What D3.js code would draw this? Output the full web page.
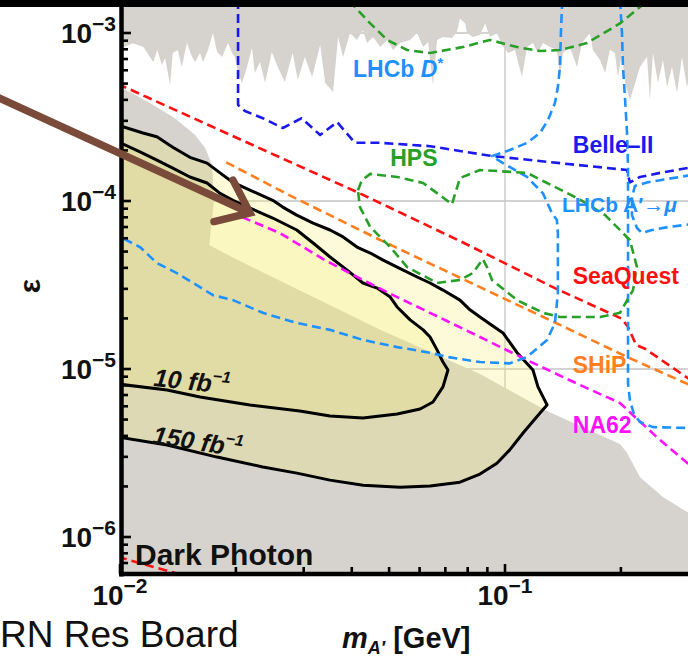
<!DOCTYPE html>
<html>
<head>
<meta charset="utf-8">
<script src="https://cdn.jsdelivr.net/npm/d3@7"></script>
<style>
  html, body { margin: 0; padding: 0; background: #fff; }
  svg { display: block; }
  text { font-family: "Liberation Sans", Arial, Helvetica, sans-serif; }
</style>
</head>
<body>
<svg id="chart" width="688" height="657"></svg>
<script>
// ---- Axis ticks (mass in GeV, kinetic mixing epsilon) ----
const xMajorTicks = [0.01, 0.1];
const xMajorExp = ["\u22122", "\u22121"];
const xMinorTicks = [0.02, 0.03, 0.04, 0.05, 0.06, 0.07, 0.08, 0.09, 0.2];
const yMajorTicks = [1e-3, 1e-4, 1e-5, 1e-6];
const yMajorExp = ["\u22123", "\u22124", "\u22125", "\u22126"];
const yMinorTicks = [7e-7, 8e-7, 9e-7,
  2e-6, 3e-6, 4e-6, 5e-6, 6e-6, 7e-6, 8e-6, 9e-6,
  2e-5, 3e-5, 4e-5, 5e-5, 6e-5, 7e-5, 8e-5, 9e-5,
  2e-4, 3e-4, 4e-4, 5e-4, 6e-4, 7e-4, 8e-4, 9e-4];
const xGrid = [0.1];
const yGrid = [1e-3, 1e-4, 1e-5, 1e-6];

// ---- Excluded regions [mass, epsilon] ----
const upperExcluded = [[0.0098,7.9e-4],[0.0108,8.7e-4],[0.0115,8.25e-4],[0.0122,6.72e-4],[0.0125,7.92e-4],[0.01285,6.45e-4],[0.0131,7.1e-4],[0.01349,4.9e-4],[0.01371,7.6e-4],[0.01413,7.92e-4],[0.01447,6.27e-4],[0.01492,8.72e-4],[0.01539,7.2e-4],[0.01567,6.72e-4],[0.01614,7.6e-4],[0.01643,6.72e-4],[0.01693,7.92e-4],[0.01744,1.0e-3],[0.01787,7.71e-4],[0.01841,7.2e-4],[0.01908,8.72e-4],[0.01954,7.6e-4],[0.01988,7.2e-4],[0.02026,5.78e-4],[0.02075,5.04e-4],[0.02138,6.27e-4],[0.02202,8.14e-4],[0.0224,5.78e-4],[0.0231,6.72e-4],[0.02382,5.04e-4],[0.02479,7.71e-4],[0.02569,6.27e-4],[0.0268,5.11e-4],[0.02809,7.6e-4],[0.02895,5.25e-4],[0.03021,7.2e-4],[0.03155,5.47e-4],[0.0331,8.49e-4],[0.03413,5.04e-4],[0.03576,4.46e-4],[0.03686,9.47e-4],[0.03797,7.2e-4],[0.03958,1.0e-3],[0.04126,9.09e-4],[0.04276,1.04e-3],[0.0438,8.72e-4],[0.04545,9.47e-4],[0.0474,8.25e-4],[0.04944,9.09e-4],[0.0512,7.92e-4],[0.0534,8.72e-4],[0.05666,9.09e-4],[0.05913,1.0e-3],[0.06128,8.25e-4],[0.06315,8.84e-4],[0.0650,4.9e-4],[0.0666,9.09e-4],[0.069,9.47e-4],[0.0728,9.34e-4],[0.075,1.01e-3],[0.0764,1.22e-3],[0.0788,1.14e-3],[0.0797,1.0e-3],[0.0825,9.47e-4],[0.0861,9.73e-4],[0.0888,1.14e-3],[0.0914,9.47e-4],[0.0953,1.0e-3],[0.0982,8.49e-4],[0.1019,7.6e-4],[0.1061,7.92e-4],[0.1107,5.47e-4],[0.1141,8.25e-4],[0.1182,8.72e-4],[0.1218,7.6e-4],[0.1255,8.72e-4],[0.1308,8.25e-4],[0.1364,7.92e-4],[0.1389,5.47e-4],[0.1414,7.6e-4],[0.1474,8.25e-4],[0.1538,6.27e-4],[0.1585,8.72e-4],[0.1661,1.0e-3],[0.1692,7.92e-4],[0.1765,6.91e-4],[0.182,5.78e-4],[0.1873,7.92e-4],[0.1929,7.6e-4],[0.1965,5.47e-4],[0.2013,7.6e-4],[0.2051,5.04e-4],[0.211,3.99e-4],[0.215,4.58e-4],[0.2242,6.27e-4],[0.2338,7.2e-4],[0.2379,3.99e-4],[0.2423,7.6e-4],[0.2497,5.04e-4],[0.2572,6.91e-4],[0.2636,4.77e-4],[0.2715,6.27e-4],[0.2798,4.4e-4],[0.2882,7.2e-4],[0.297,4.77e-4],[0.306,6.27e-4]];
const lowerExcluded = [[0.0098,4.84e-4],[0.01062,4.46e-4],[0.01196,3.83e-4],[0.01388,3.11e-4],[0.01567,2.47e-4],[0.01664,2.07e-4],[0.01734,1.63e-4],[0.01755,1.01e-4],[0.01705,5.47e-5],[0.0193,4.70e-5],[0.0474,1.71e-5],[0.0861,9.34e-6],[0.1286,5.62e-6],[0.1989,3.58e-6],[0.2075,3.17e-6],[0.2242,2.27e-6],[0.2572,1.73e-6],[0.306,1.35e-6]];

// ---- Projected reach contours ----
const reach150 = [[0.00988,2.83e-4],[0.01147,2.54e-4],[0.01247,2.41e-4],[0.01371,2.09e-4],[0.01519,1.82e-4],[0.01683,1.68e-4],[0.01819,1.47e-4],[0.01966,1.29e-4],[0.02175,1.16e-4],[0.02493,1.01e-4],[0.02647,9.2e-5],[0.02878,8.24e-5],[0.03174,7.39e-5],[0.03512,6.72e-5],[0.03797,6.11e-5],[0.04126,5.32e-5],[0.04467,4.9e-5],[0.04825,4.45e-5],[0.05246,4.04e-5],[0.05913,3.53e-5],[0.06387,3.25e-5],[0.069,2.95e-5],[0.0764,2.57e-5],[0.0811,2.25e-5],[0.0861,2.04e-5],[0.0988,1.64e-5],[0.1075,1.25e-5],[0.1182,9.86e-6],[0.1218,7.82e-6],[0.1286,6.11e-6],[0.1233,5.47e-6],[0.1114,4.16e-6],[0.1029,3.3e-6],[0.0953,2.75e-6],[0.0861,2.37e-6],[0.0764,2.12e-6],[0.0639,2.01e-6],[0.0534,1.98e-6],[0.0428,2.03e-6],[0.0351,2.18e-6],[0.0288,2.4e-6],[0.0235,2.61e-6],[0.01787,2.99e-6],[0.01325,3.53e-6],[0.00988,3.94e-6]];
const reach10 = [[0.00988,2.25e-4],[0.01127,1.96e-4],[0.01247,1.75e-4],[0.01371,1.57e-4],[0.01519,1.39e-4],[0.01683,1.28e-4],[0.01819,1.11e-4],[0.01966,1.01e-4],[0.02175,9.08e-5],[0.02493,7.92e-5],[0.02878,6.72e-5],[0.03174,5.62e-5],[0.03512,4.64e-5],[0.0389,3.88e-5],[0.04276,3.25e-5],[0.04656,3.03e-5],[0.05034,2.68e-5],[0.05246,2.34e-5],[0.0567,1.96e-5],[0.0613,1.71e-5],[0.06387,1.55e-5],[0.0666,1.3e-5],[0.069,1.1e-5],[0.0711,9.86e-6],[0.069,7.82e-6],[0.065,6.36e-6],[0.0602,5.78e-6],[0.05246,5.4e-6],[0.04276,5.11e-6],[0.03512,5.25e-6],[0.0293,5.62e-6],[0.02175,6.11e-6],[0.01614,6.81e-6],[0.01325,7.5e-6],[0.00988,8.14e-6]];

// ---- Other experiments (dashed) ----
const seaquestUpper = [[0.00988,4.97e-4],[0.02175,2.19e-4],[0.04126,1.13e-4],[0.0764,5.78e-5],[0.1364,2.99e-5],[0.2013,1.99e-5],[0.2087,1.78e-5],[0.219,1.39e-5],[0.2311,1.32e-5],[0.306,8.48e-6]];
const seaquestLower = [[0.00988,7.61e-7],[0.01614,5.55e-7]];
const ship = [[0.01886,1.7e-4],[0.0276,1.08e-4],[0.0474,5.86e-5],[0.0861,3.07e-5],[0.1389,1.83e-5],[0.2075,1.18e-5],[0.306,7.92e-6]];
const na62 = [[0.02075,8.02e-5],[0.026,6.45e-5],[0.0337,4.51e-5],[0.04126,3.53e-5],[0.05246,2.68e-5],[0.0707,1.93e-5],[0.0861,1.55e-5],[0.1141,1.13e-5],[0.1566,8.03e-6],[0.1989,6.28e-6],[0.2175,5.18e-6],[0.2527,3.78e-6],[0.306,2.61e-6]];
const belle2 = [[0.02026,1.57e-3],[0.02026,3.73e-4],[0.02112,3.43e-4],[0.0235,3.11e-4],[0.02647,2.72e-4],[0.02965,3.11e-4],[0.0331,2.47e-4],[0.03664,2.95e-4],[0.04074,2.22e-4],[0.0474,2.22e-4],[0.0639,2.12e-4],[0.0861,1.9e-4],[0.093,1.85e-4],[0.1389,1.68e-4],[0.2075,1.53e-4],[0.211,1.29e-4],[0.2242,1.39e-4],[0.2527,1.47e-4],[0.306,1.59e-4]];
const lhcbMain = [[0.1414,1.57e-3],[0.1406,1.43e-3],[0.1397,1.0e-3],[0.1389,6.27e-4],[0.1372,4.77e-4],[0.1348,3.83e-4],[0.1293,3.03e-4],[0.1233,2.54e-4],[0.1141,2.22e-4],[0.1029,2.01e-4],[0.0925,1.85e-4],[0.0988,1.68e-4],[0.1141,1.39e-4],[0.1255,1.11e-4],[0.1324,8.47e-5],[0.1364,7.7e-5],[0.1372,6.45e-5],[0.1372,2.83e-5],[0.1348,1.88e-5],[0.1286,1.49e-5],[0.1141,1.18e-5],[0.1029,1.08e-5],[0.0861,1.1e-5],[0.0707,1.18e-5],[0.0639,1.25e-5],[0.05246,1.35e-5],[0.04276,1.49e-5],[0.03512,1.71e-5],[0.02878,1.88e-5],[0.0235,2.16e-5],[0.01966,2.57e-5],[0.01744,2.75e-5],[0.01614,3.07e-5],[0.01405,3.72e-5],[0.01247,4.27e-5],[0.01127,5.32e-5],[0.0100,6.11e-5],[0.0097,6.36e-5]];
const lhcbRight = [[0.1989,1.57e-3],[0.2013,1.0e-3],[0.2025,6.27e-4],[0.2051,3.99e-4],[0.2075,2.54e-4],[0.2087,1.59e-4],[0.2087,1.01e-4],[0.2087,2.57e-5],[0.2087,8.25e-6],[0.211,6.54e-6],[0.2162,5.4e-6],[0.2242,4.83e-6],[0.2423,4.51e-6],[0.306,4.45e-6]];
const lhcbIsland = [[0.306,1.43e-4],[0.2527,1.33e-4],[0.2338,1.29e-4],[0.2175,1.23e-4],[0.2137,1.05e-4],[0.2137,8.24e-5],[0.2202,6.91e-5],[0.2269,6.45e-5],[0.2409,6.72e-5],[0.2651,7.0e-5],[0.306,7.29e-5]];
const hpsUpper = [[0.03958,1.57e-3],[0.04074,1.43e-3],[0.04467,1.14e-3],[0.04944,9.09e-4],[0.0557,7.92e-4],[0.06387,7.6e-4],[0.0778,8.25e-4],[0.0914,9.09e-4],[0.1075,8.25e-4],[0.1233,7.81e-4],[0.1389,7.92e-4],[0.1633,8.72e-4],[0.1989,1.14e-3],[0.2242,1.43e-3],[0.2352,1.57e-3]];
const hpsLower = [[0.0415,1.16e-4],[0.0425,1.33e-4],[0.04467,1.45e-4],[0.05246,1.39e-4],[0.06128,1.28e-4],[0.069,1.05e-4],[0.0728,9.56e-5],[0.0764,1.37e-4],[0.0861,1.53e-4],[0.1141,1.47e-4],[0.1286,1.28e-4],[0.1566,1.02e-4],[0.182,8.24e-5],[0.211,5.86e-5],[0.2202,4.04e-5],[0.215,2.95e-5],[0.1989,2.16e-5],[0.1765,2.04e-5],[0.1389,2.04e-5],[0.1255,2.16e-5],[0.1075,2.57e-5],[0.0925,3.39e-5],[0.0898,4.04e-5],[0.0876,4.51e-5],[0.0825,3.72e-5],[0.0764,3.39e-5],[0.0666,3.25e-5],[0.0557,4.04e-5],[0.05034,5.32e-5],[0.04467,7.0e-5],[0.042,9.2e-5],[0.0415,1.16e-4]];

// ---- Text labels [text, mass, epsilon, colour] ----
const experimentLabels = [
  { name: "SeaQuest", m: 0.150, e: 3.21e-5, color: "#ff1010" },
  { name: "SHiP", m: 0.150, e: 9.46e-6, color: "#ff7f1e" },
  { name: "NA62", m: 0.150, e: 4.16e-6, color: "#ff10ff" },
  { name: "Belle\u2013II", m: 0.150, e: 1.93e-4, color: "#1a1aee" },
  { name: "HPS", m: 0.05034, e: 1.61e-4, color: "#28a028" }
];

const C = {
  gray: "#d6d3cf",
  yellow: "#f5ec6a",
  lightBlue: "#1e90ff",
  darkBlue: "#1a1aee",
  green: "#28a028",
  red: "#ff1010",
  orange: "#ff7f1e",
  magenta: "#ff10ff",
  grid: "#c4c4c4",
  arrow: "#7a4b3a"
};

const svg = d3.select("#chart");
const x = d3.scaleLog().domain([0.01, 0.1]).range([120, 505]);
const y = d3.scaleLog().domain([1e-4, 1e-3]).range([201, 33]);
const line = d3.line().x(d => x(d[0])).y(d => y(d[1]));

svg.append("rect").attr("width", 688).attr("height", 657).attr("fill", "#fff");

svg.append("defs").append("clipPath").attr("id", "plotArea")
  .append("rect").attr("x", 121).attr("y", 0).attr("width", 567).attr("height", 574);

const plot = svg.append("g").attr("clip-path", "url(#plotArea)");

// grid
plot.selectAll(".gx").data(xGrid).join("line")
  .attr("x1", d => x(d)).attr("x2", d => x(d)).attr("y1", 0).attr("y2", 574)
  .attr("stroke", C.grid).attr("stroke-width", 1.3);
plot.selectAll(".gy").data(yGrid).join("line")
  .attr("x1", 121).attr("x2", 688).attr("y1", d => y(d)).attr("y2", d => y(d))
  .attr("stroke", C.grid).attr("stroke-width", 1.3);

// excluded regions
plot.append("path")
  .attr("d", line(upperExcluded.concat([[0.306, 5e-3], [0.0098, 5e-3]])) + "Z")
  .attr("fill", C.gray);
plot.append("path")
  .attr("d", line(lowerExcluded.concat([[0.306, 1e-7], [0.0098, 1e-7]])) + "Z")
  .attr("fill", C.gray);

// projected reach fills and outlines
plot.append("path").attr("d", line(reach150) + "Z")
  .attr("fill", C.yellow).attr("fill-opacity", 0.26);
plot.append("path").attr("d", line(reach10) + "Z")
  .attr("fill", C.yellow).attr("fill-opacity", 0.2);
[reach150, reach10].forEach(r => {
  plot.append("path").attr("d", line(r) + "Z")
    .attr("fill", "none").attr("stroke", "#000").attr("stroke-width", 3)
    .attr("stroke-linejoin", "round");
});

// dashed experiment curves
const dashed = [
  [seaquestUpper, C.red], [seaquestLower, C.red],
  [ship, C.orange], [na62, C.magenta],
  [belle2, C.darkBlue],
  [lhcbMain, C.lightBlue], [lhcbRight, C.lightBlue], [lhcbIsland, C.lightBlue],
  [hpsUpper, C.green], [hpsLower, C.green]
];
dashed.forEach(([pts, col]) => {
  plot.append("path").attr("d", line(pts))
    .attr("fill", "none").attr("stroke", col).attr("stroke-width", 2.6)
    .attr("stroke-dasharray", "9,5").attr("stroke-linejoin", "round");
});

// labels inside the plot
experimentLabels.forEach(l => {
  svg.append("text").attr("x", x(l.m)).attr("y", y(l.e))
    .attr("fill", l.color).attr("font-size", 23).attr("font-weight", "bold")
    .text(l.name);
});
const dstar = svg.append("text").attr("x", x(0.0403)).attr("y", y(5.47e-4))
  .attr("fill", C.lightBlue).attr("font-size", 23).attr("font-weight", "bold");
dstar.append("tspan").text("LHCb ");
dstar.append("tspan").attr("font-style", "italic").text("D");
dstar.append("tspan").attr("font-size", 15).attr("dy", -9).text("*");
const amumu = svg.append("text").attr("x", x(0.1406)).attr("y", y(8.59e-5))
  .attr("fill", C.lightBlue).attr("font-size", 21).attr("font-weight", "bold");
amumu.append("tspan").text("LHCb A\u2032\u2192");
amumu.append("tspan").attr("font-style", "italic").text("\u03bc");

function fbLabel(txt, m, e, angle) {
  const px = x(m), py = y(e);
  const t = svg.append("text").attr("transform", `translate(${px},${py}) rotate(${angle})`)
    .attr("font-size", 25).attr("font-weight", "bold").attr("font-style", "italic").attr("fill", "#111");
  t.append("tspan").text(txt + " fb");
  t.append("tspan").attr("font-size", 16).attr("dy", -11).text("\u22121");
}
fbLabel("10", 0.01218, 7.92e-6, 6);
fbLabel("150", 0.0121, 3.62e-6, 9);

svg.append("text").attr("x", x(0.01094)).attr("y", y(6.81e-7))
  .attr("font-size", 30).attr("font-weight", "bold").attr("fill", "#111").text("Dark Photon");

// axes frame
svg.append("line").attr("x1", 121.5).attr("x2", 121.5).attr("y1", 0).attr("y2", 576.5)
  .attr("stroke", "#000").attr("stroke-width", 4.5);
svg.append("line").attr("x1", 119).attr("x2", 688).attr("y1", 574).attr("y2", 574)
  .attr("stroke", "#000").attr("stroke-width", 4.5);

// ticks
svg.selectAll(".ymaj").data(yMajorTicks).join("line")
  .attr("x1", 121).attr("x2", 131).attr("y1", d => y(d)).attr("y2", d => y(d))
  .attr("stroke", "#000").attr("stroke-width", 2.6);
svg.selectAll(".ymin").data(yMinorTicks).join("line")
  .attr("x1", 121).attr("x2", 128).attr("y1", d => y(d)).attr("y2", d => y(d))
  .attr("stroke", "#000").attr("stroke-width", 2.6);
svg.selectAll(".xmaj").data(xMajorTicks).join("line")
  .attr("x1", d => x(d)).attr("x2", d => x(d)).attr("y1", 574).attr("y2", 564)
  .attr("stroke", "#000").attr("stroke-width", 2.6);
svg.selectAll(".xmin").data(xMinorTicks).join("line")
  .attr("x1", d => x(d)).attr("x2", d => x(d)).attr("y1", 574).attr("y2", 567)
  .attr("stroke", "#000").attr("stroke-width", 2.6);

// tick labels
yMajorTicks.forEach((v, i) => {
  const t = svg.append("text").attr("x", 116).attr("y", y(v) + 10)
    .attr("text-anchor", "end").attr("font-size", 28).attr("font-weight", "bold").attr("fill", "#111");
  t.append("tspan").text("10");
  t.append("tspan").attr("font-size", 21).attr("dy", -12).text(yMajorExp[i]);
});
xMajorTicks.forEach((v, i) => {
  const t = svg.append("text").attr("x", x(v)).attr("y", 605)
    .attr("text-anchor", "middle").attr("font-size", 28).attr("font-weight", "bold").attr("fill", "#111");
  t.append("tspan").text("10");
  t.append("tspan").attr("font-size", 21).attr("dy", -12).text(xMajorExp[i]);
});

// axis titles
svg.append("text").attr("transform", "translate(40,286) rotate(-90)")
  .attr("text-anchor", "middle").attr("font-size", 30).attr("font-weight", "bold")
  .attr("fill", "#111").text("\u03b5");
const xt = svg.append("text").attr("x", 342).attr("y", 648)
  .attr("font-size", 29).attr("font-weight", "bold").attr("fill", "#111");
xt.append("tspan").attr("font-style", "italic").text("m");
xt.append("tspan").attr("font-style", "italic").attr("font-size", 18).attr("dy", 6).text("A\u2032");
xt.append("tspan").attr("dy", -6).text(" [GeV]");

// slide footer text and banner
svg.append("text").attr("x", 0).attr("y", 647).attr("font-size", 37)
  .attr("fill", "#111").text("RN Res Board");
svg.append("rect").attr("x", 0).attr("y", 0).attr("width", 688).attr("height", 7).attr("fill", "#000");

// annotation arrow
const tip = [250, 213], tail = [-5, 96];
const ang = Math.atan2(tip[1] - tail[1], tip[0] - tail[0]);
const armLen = 37, spread = 38 * Math.PI / 180;
const arm = a => [tip[0] - armLen * Math.cos(ang + a), tip[1] - armLen * Math.sin(ang + a)];
svg.append("line").attr("x1", tail[0]).attr("y1", tail[1])
  .attr("x2", tip[0] - 3 * Math.cos(ang)).attr("y2", tip[1] - 3 * Math.sin(ang))
  .attr("stroke", C.arrow).attr("stroke-width", 7.5);
svg.append("path").attr("d", d3.line()([arm(spread), tip, arm(-spread)]))
  .attr("fill", "none").attr("stroke", C.arrow).attr("stroke-width", 7.5)
  .attr("stroke-linejoin", "miter").attr("stroke-linecap", "round");
</script>
</body>
</html>
